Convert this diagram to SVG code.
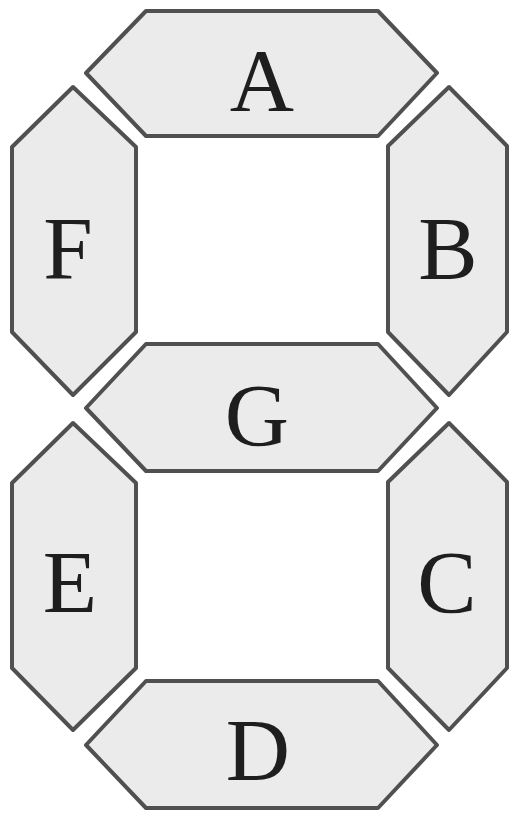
<svg xmlns="http://www.w3.org/2000/svg" width="513" height="815" viewBox="0 0 513 815">
<style>
.seg{fill:#ebebeb;stroke:#505050;stroke-width:4;stroke-linejoin:round}
.lbl{font-family:"Liberation Serif","Times New Roman",serif;font-size:89px;fill:#1e1e1e;text-anchor:middle}
</style>
<rect width="513" height="815" fill="#ffffff"/>
<g id="A"><polygon class="seg" points="146,11 378,11 437,73 378,136 146,136 86,73"/><text class="lbl" x="262" y="110">A</text></g>
<g id="F"><polygon class="seg" points="73,87 136,147 136,332 73,395 12,332 12,147"/><text class="lbl" x="68" y="278">F</text></g>
<g id="B"><polygon class="seg" points="449,87 507,146 507,332 449,395 388,332 388,146"/><text class="lbl" x="448" y="278">B</text></g>
<g id="G"><polygon class="seg" points="146,344 378,344 437,408 378,471 146,471 86,408"/><text class="lbl" x="257" y="445">G</text></g>
<g id="E"><polygon class="seg" points="73,423 136,483 136,668 73,730 12,668 12,483"/><text class="lbl" x="70" y="612">E</text></g>
<g id="C"><polygon class="seg" points="449,423 507,482 507,668 449,730 388,668 388,482"/><text class="lbl" x="447" y="612">C</text></g>
<g id="D"><polygon class="seg" points="146,681 378,681 437,745 378,808 146,808 86,745"/><text class="lbl" x="258" y="780">D</text></g>
<g id="connectors"></g>
</svg>
